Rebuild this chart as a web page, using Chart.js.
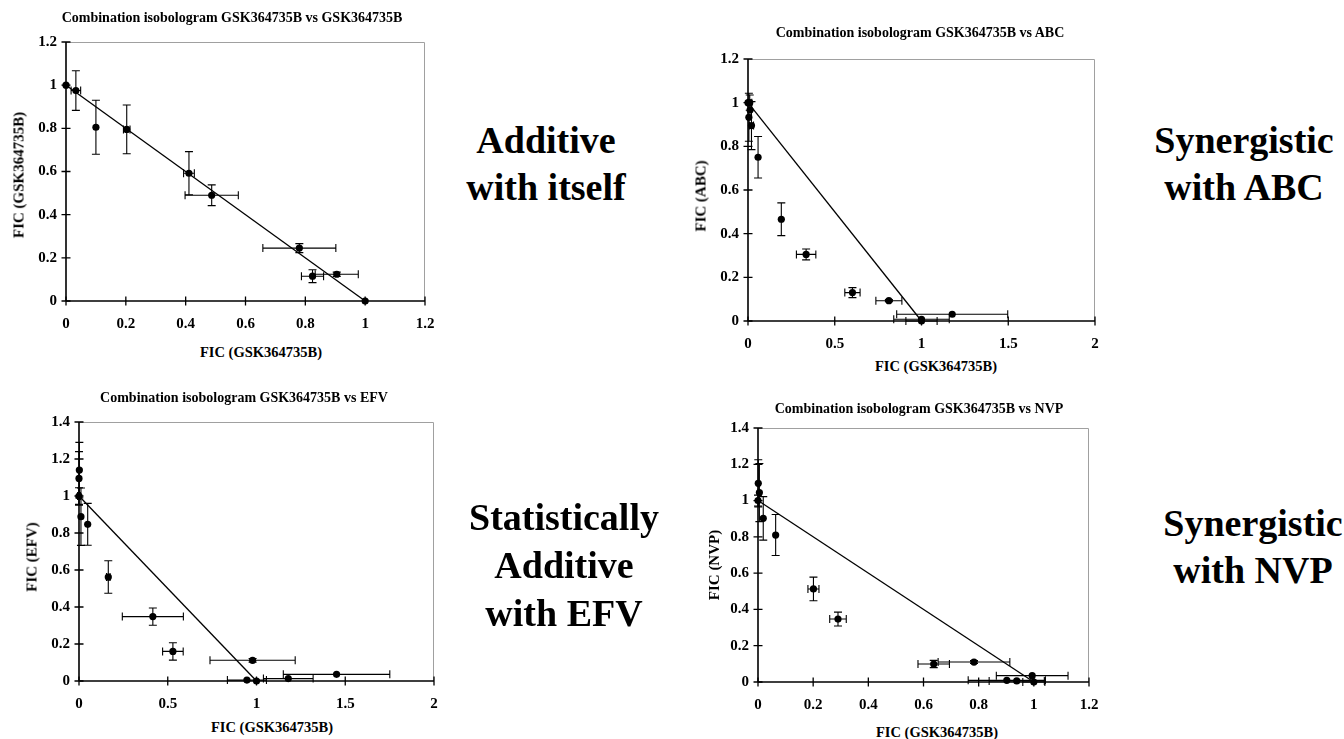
<!DOCTYPE html>
<html><head><meta charset="utf-8">
<script src="https://cdn.jsdelivr.net/npm/chart.js@4.4.0/dist/chart.umd.min.js"></script>
<style>
html,body{margin:0;padding:0;background:#fff;}
body{width:1344px;height:739px;overflow:hidden;position:relative;font-family:"Liberation Serif","Times New Roman",serif;}
canvas{position:absolute;}
.t{position:absolute;font-weight:bold;white-space:nowrap;color:#000;}
.ttl{font-size:14px;line-height:14px;transform:translateX(-50%);}
.xt{font-size:14.5px;line-height:14.5px;transform:translateX(-50%);}
.yt{font-size:15px;line-height:15px;transform:translate(-50%,-50%) rotate(-90deg);}
.big{font-size:38px;line-height:47px;text-align:center;transform:translateX(-50%);}
</style></head><body>

<canvas id="c1" width="449" height="314" style="left:6px;top:22px"></canvas>
<canvas id="c2" width="437" height="317" style="left:688px;top:39px"></canvas>
<canvas id="c3" width="445" height="314" style="left:19px;top:402px"></canvas>
<canvas id="c4" width="421" height="309" style="left:698px;top:408px"></canvas>

<div class="t ttl" style="left:232px;top:11px">Combination isobologram GSK364735B vs GSK364735B</div>
<div class="t ttl" style="left:920px;top:26px">Combination isobologram GSK364735B vs ABC</div>
<div class="t ttl" style="left:244px;top:391px">Combination isobologram GSK364735B vs EFV</div>
<div class="t ttl" style="left:919px;top:402px">Combination isobologram GSK364735B vs NVP</div>

<div class="t xt" style="left:261px;top:345px">FIC (GSK364735B)</div>
<div class="t xt" style="left:936px;top:359px">FIC (GSK364735B)</div>
<div class="t xt" style="left:272px;top:720px">FIC (GSK364735B)</div>
<div class="t xt" style="left:937px;top:725px">FIC (GSK364735B)</div>

<div class="t yt" style="left:19px;top:175px">FIC (GSK364735B)</div>
<div class="t yt" style="left:701px;top:196px">FIC (ABC)</div>
<div class="t yt" style="left:32px;top:557px">FIC (EFV)</div>
<div class="t yt" style="left:714px;top:565px">FIC (NVP)</div>

<div class="t big" style="left:546px;top:117px">Additive<br>with itself</div>
<div class="t big" style="left:1244px;top:117px">Synergistic<br>with ABC</div>
<div class="t big" style="left:564px;top:493px;line-height:48px">Statistically<br>Additive<br>with EFV</div>
<div class="t big" style="left:1253px;top:500px">Synergistic<br>with NVP</div>

<script>
// ---- data ----
const lineX = [0, 1];
const lineY = [1, 0];

// Panel 1: GSK364735B vs GSK364735B
const p1X    = [0, 0.033, 0.10, 0.203, 0.411, 0.487, 0.780, 0.824, 0.905, 1.0];
const p1Y    = [1.0, 0.975, 0.805, 0.795, 0.592, 0.490, 0.245, 0.115, 0.124, 0.0];
const p1XErr = [0, 0.016, 0, 0.011, 0.018, 0.089, 0.122, 0.037, 0.072, 0];
const p1YErr = [0, 0.092, 0.125, 0.113, 0.10, 0.048, 0.021, 0.03, 0.01, 0];

// Panel 2: GSK364735B vs ABC
const p2X    = [0, 0.005, 0.012, 0.010, 0.020, 0.058, 0.192, 0.335, 0.602, 0.812, 1.0, 1.0, 1.177];
const p2Y    = [1.0, 0.933, 0.966, 1.0, 0.895, 0.75, 0.466, 0.305, 0.13, 0.093, 0.008, 0.0, 0.031];
const p2XErr = [0, 0, 0, 0.012, 0.012, 0, 0, 0.056, 0.044, 0.075, 0.16, 0.09, 0.32];
const p2YErr = [0, 0.11, 0, 0.035, 0.11, 0.095, 0.075, 0.025, 0.023, 0.005, 0, 0, 0];

// Panel 3: GSK364735B vs EFV
const p3X    = [0, 0, 0.002, 0.011, 0.049, 0.165, 0.416, 0.529, 0.978, 0.946, 1.0, 1.179, 1.451];
const p3Y    = [1.0, 1.095, 1.14, 0.888, 0.847, 0.562, 0.348, 0.16, 0.112, 0.005, 0.0, 0.013, 0.036];
const p3XErr = [0.008, 0, 0, 0, 0, 0.01, 0.172, 0.058, 0.24, 0.11, 0, 0.14, 0.30];
const p3YErr = [0.045, 0.145, 0.15, 0.155, 0.113, 0.088, 0.047, 0.047, 0.01, 0, 0, 0, 0];

// Panel 4: GSK364735B vs NVP
const p4X    = [0, 0.001, 0.005, 0.019, 0.064, 0.201, 0.29, 0.637, 0.783, 0.902, 0.938, 0.994, 1.0];
const p4Y    = [1.0, 1.095, 1.044, 0.902, 0.81, 0.513, 0.347, 0.099, 0.11, 0.009, 0.006, 0.035, 0.0];
const p4XErr = [0, 0, 0, 0, 0, 0.02, 0.03, 0.057, 0.13, 0.14, 0.1, 0.13, 0.04];
const p4YErr = [0.03, 0.13, 0.16, 0.12, 0.113, 0.065, 0.038, 0.02, 0.008, 0, 0, 0, 0];

// axis ranges / tick steps
const p1Axes = {xMax: 1.2, xStep: 0.2, yMax: 1.2, yStep: 0.2};
const p2Axes = {xMax: 2,   xStep: 0.5, yMax: 1.2, yStep: 0.2};
const p3Axes = {xMax: 2,   xStep: 0.5, yMax: 1.4, yStep: 0.2};
const p4Axes = {xMax: 1.2, xStep: 0.2, yMax: 1.4, yStep: 0.2};

// ---- drawing ----
Chart.defaults.font.family = '"Liberation Serif","Times New Roman",serif';
Chart.defaults.color = '#000';

const frameAndErrors = {
  id: 'frameAndErrors',
  beforeDatasetsDraw(chart) {
    const {ctx, chartArea: a, scales: {x, y}} = chart;
    ctx.save();
    // plot-area frame (top & right, gray)
    ctx.strokeStyle = '#a0a0a0';
    ctx.lineWidth = 1;
    ctx.beginPath();
    ctx.moveTo(a.left, Math.round(a.top) + 0.5);
    ctx.lineTo(Math.round(a.right) - 0.5, Math.round(a.top) + 0.5);
    ctx.lineTo(Math.round(a.right) - 0.5, a.bottom);
    ctx.stroke();
    // axes with cross ticks
    const x0 = x.getPixelForValue(0), y0 = y.getPixelForValue(0);
    ctx.strokeStyle = '#000';
    ctx.lineWidth = 1.6;
    ctx.beginPath();
    ctx.moveTo(x0, a.top); ctx.lineTo(x0, y0);
    ctx.moveTo(x0, y0); ctx.lineTo(a.right, y0);
    ctx.stroke();
    ctx.lineWidth = 1.3;
    ctx.beginPath();
    x.ticks.forEach(t => { const px = x.getPixelForValue(t.value); ctx.moveTo(px, y0 - 4.5); ctx.lineTo(px, y0 + 4.5); });
    y.ticks.forEach(t => { const py = y.getPixelForValue(t.value); ctx.moveTo(x0 - 4.5, py); ctx.lineTo(x0 + 4.5, py); });
    ctx.stroke();
    // error bars
    ctx.lineWidth = 1.1;
    ctx.strokeStyle = '#000';
    chart.data.datasets.forEach(ds => {
      if (!ds.xErr) return;
      ds.data.forEach((p, i) => {
        const px = x.getPixelForValue(p.x), py = y.getPixelForValue(p.y);
        const xe = ds.xErr[i], ye = ds.yErr[i];
        ctx.beginPath();
        if (xe > 0) {
          const l = x.getPixelForValue(p.x - xe), r = x.getPixelForValue(p.x + xe);
          ctx.moveTo(l, py); ctx.lineTo(r, py);
          ctx.moveTo(l, py - 4); ctx.lineTo(l, py + 4);
          ctx.moveTo(r, py - 4); ctx.lineTo(r, py + 4);
        }
        if (ye > 0) {
          const t = y.getPixelForValue(p.y + ye), b = y.getPixelForValue(p.y - ye);
          ctx.moveTo(px, t); ctx.lineTo(px, b);
          ctx.moveTo(px - 4, t); ctx.lineTo(px + 4, t);
          ctx.moveTo(px - 4, b); ctx.lineTo(px + 4, b);
        }
        ctx.stroke();
      });
    });
    ctx.restore();
  }
};

function pts(xs, ys) { return xs.map((v, i) => ({x: v, y: ys[i]})); }
const fmt = v => String(+Number(v).toFixed(2));

function makePanel(id, xs, ys, xe, ye, axes) {
  const tickFont = {size: 15, weight: 'bold'};
  new Chart(document.getElementById(id), {
    type: 'scatter',
    data: {
      datasets: [
        {
          type: 'line', data: pts(lineX, lineY), borderColor: '#000', borderWidth: 1.3,
          pointRadius: 0, showLine: true, fill: false, clip: false, order: 2
        },
        {
          data: pts(xs, ys), xErr: xe, yErr: ye,
          pointRadius: 3.6, pointHoverRadius: 3.6, backgroundColor: '#000', borderColor: '#000',
          borderWidth: 0, clip: false, order: 1
        }
      ]
    },
    options: {
      responsive: false, animation: false, devicePixelRatio: 1,
      layout: {padding: {left: 0, right: 30, top: 20, bottom: 0}},
      plugins: {legend: {display: false}, tooltip: {enabled: false}, title: {display: false}},
      events: [],
      scales: {
        x: {
          type: 'linear', min: 0, max: axes.xMax,
          ticks: {stepSize: axes.xStep, font: tickFont, color: '#000', padding: 14, maxRotation: 0, callback: fmt},
          grid: {display: false, drawTicks: false}, border: {display: false},
          afterFit(s) { s.height = 35; }
        },
        y: {
          type: 'linear', min: 0, max: axes.yMax,
          ticks: {stepSize: axes.yStep, font: tickFont, color: '#000', padding: 9, callback: fmt},
          grid: {display: false, drawTicks: false}, border: {display: false},
          afterFit(s) { s.width = 60; }
        }
      }
    },
    plugins: [frameAndErrors]
  });
}

makePanel('c1', p1X, p1Y, p1XErr, p1YErr, p1Axes);
makePanel('c2', p2X, p2Y, p2XErr, p2YErr, p2Axes);
makePanel('c3', p3X, p3Y, p3XErr, p3YErr, p3Axes);
makePanel('c4', p4X, p4Y, p4XErr, p4YErr, p4Axes);
</script>
</body></html>
